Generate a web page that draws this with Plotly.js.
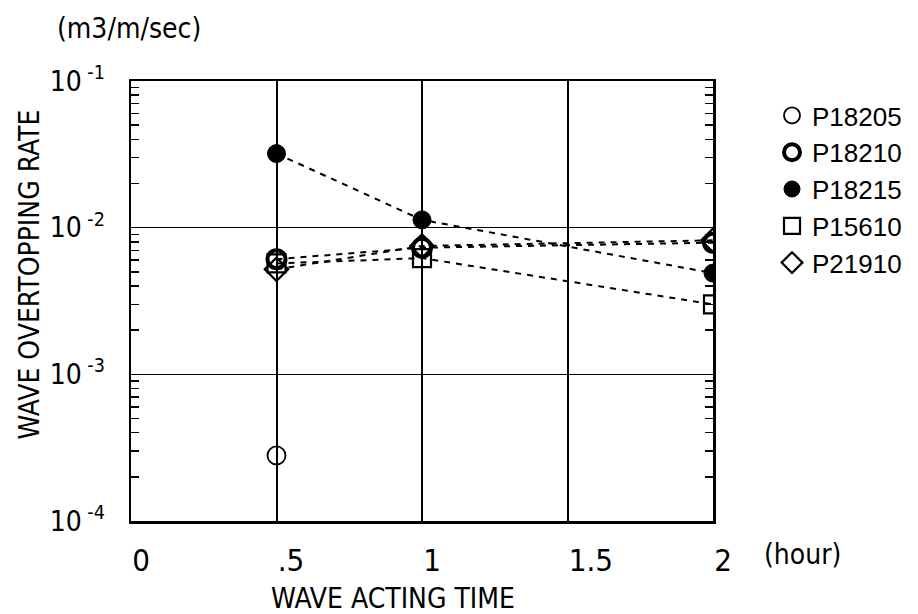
<!DOCTYPE html>
<html>
<head>
<meta charset="utf-8">
<script src="https://cdn.plot.ly/plotly-3.0.1.min.js"></script>
<style>html,body{margin:0;padding:0;background:#fff}#chart{width:918px;height:614px}</style>
</head>
<body>
<div id="chart"></div>
<script>
const seriesNames = ["P18205", "P18210", "P18215", "P15610", "P21910"];
const timeP18205 = [0.5];
const rateP18205 = [0.00028];
const timeAll = [0.5, 1, 2];
const rateP18210 = [0.0061, 0.0073, 0.0079];
const rateP18215 = [0.032, 0.0113, 0.0049];
const rateP15610 = [0.0057, 0.0062, 0.0030];
const rateP21910 = [0.0052, 0.0075, 0.0082];
const xTickVals = [0, 0.5, 1, 1.5, 2];
const xTickText = ["0", ".5", "1", "1.5", "2"];
const yTickVals = [1e-4, 1e-3, 1e-2, 1e-1];
const yTickText = ["10<sup> -4</sup>", "10<sup> -3</sup>", "10<sup> -2</sup>", "10<sup> -1</sup>"];

const FONT = "'Liberation Sans Narrow', 'DejaVu Sans Condensed', 'Arial Narrow', sans-serif";
const dashLine = {color: 'black', width: 2, dash: '6px,6px'};

function lineTr(x, y) {
  return {type: 'scatter', mode: 'lines', x: x, y: y, line: dashLine,
          showlegend: false, hoverinfo: 'skip'};
}
function markTr(name, x, y, symbol, lw) {
  return {type: 'scatter', mode: 'markers', name: name, x: x, y: y,
          marker: {symbol: symbol, size: 18, color: 'black', line: {color: 'black', width: lw}}};
}

const data = [
  lineTr(timeAll, rateP18210),
  lineTr(timeAll, rateP18215),
  lineTr(timeAll, rateP15610),
  lineTr(timeAll, rateP21910),
  markTr(seriesNames[0], timeP18205, rateP18205, 'circle-open', 1.8),
  markTr(seriesNames[1], timeAll, rateP18210, 'circle-open', 4),
  markTr(seriesNames[2], timeAll, rateP18215, 'circle', 1),
  markTr(seriesNames[3], timeAll, rateP15610, 'square-open', 2.2),
  markTr(seriesNames[4], timeAll, rateP21910, 'diamond-open', 2.2)
];

const layout = {
  width: 918, height: 614,
  margin: {l: 131, r: 204, t: 81, b: 93, pad: 0},
  paper_bgcolor: 'white', plot_bgcolor: 'white',
  font: {family: FONT, color: 'black', size: 24},
  showlegend: true,
  legend: {x: 1.0995, xanchor: 'left', y: 0.975, yanchor: 'top',
           font: {family: "'Liberation Sans', Arial, sans-serif", size: 26, color: 'black'},
           tracegroupgap: 0, bgcolor: 'rgba(0,0,0,0)'},
  xaxis: {
    range: [0, 2], tickvals: xTickVals, ticktext: xTickText,
    showline: true, linecolor: 'black', linewidth: 2.5, mirror: true,
    showgrid: true, gridcolor: 'black', gridwidth: 2,
    ticks: '', zeroline: false, ticklabelstandoff: 10,
    ticklabelposition: 'outside right',
    tickfont: {family: FONT, size: 31, color: 'black'}
  },
  yaxis: {
    type: 'log', range: [-4, -1], tickvals: yTickVals, ticktext: yTickText,
    showline: true, linecolor: 'black', linewidth: 2.5, mirror: 'ticks',
    showgrid: true, gridcolor: 'black', gridwidth: 1.3,
    ticks: 'inside', ticklen: 10, tickcolor: 'black', tickwidth: 1.5,
    minor: {ticks: 'inside', ticklen: 8, tickcolor: 'black', tickwidth: 1.5, dtick: 'D1', showgrid: false},
    zeroline: false, ticklabelstandoff: 18,
    tickfont: {family: FONT, size: 28, color: 'black'}
  },
  annotations: [
    {xref: 'paper', yref: 'paper', x: -0.176, y: 0.559, xanchor: 'center', yanchor: 'middle',
     text: 'WAVE OVERTOPPING RATE', textangle: -90, showarrow: false,
     font: {family: FONT, size: 28, color: 'black'}},
    {xref: 'paper', yref: 'paper', x: 0.451, y: -0.175, xanchor: 'center', yanchor: 'middle',
     text: 'WAVE ACTING TIME', showarrow: false,
     font: {family: FONT, size: 28, color: 'black'}},
    {xref: 'paper', yref: 'paper', x: 1.085, y: -0.077, xanchor: 'left', yanchor: 'middle',
     text: '(hour)', showarrow: false,
     font: {family: FONT, size: 28, color: 'black'}},
    {xref: 'paper', yref: 'paper', x: -0.13, y: 1.12, xanchor: 'left', yanchor: 'middle',
     text: '(m3/m/sec)', showarrow: false,
     font: {family: FONT, size: 28, color: 'black'}}
  ]
};

Plotly.newPlot('chart', data, layout, {displayModeBar: false, staticPlot: true});
</script>
</body>
</html>
